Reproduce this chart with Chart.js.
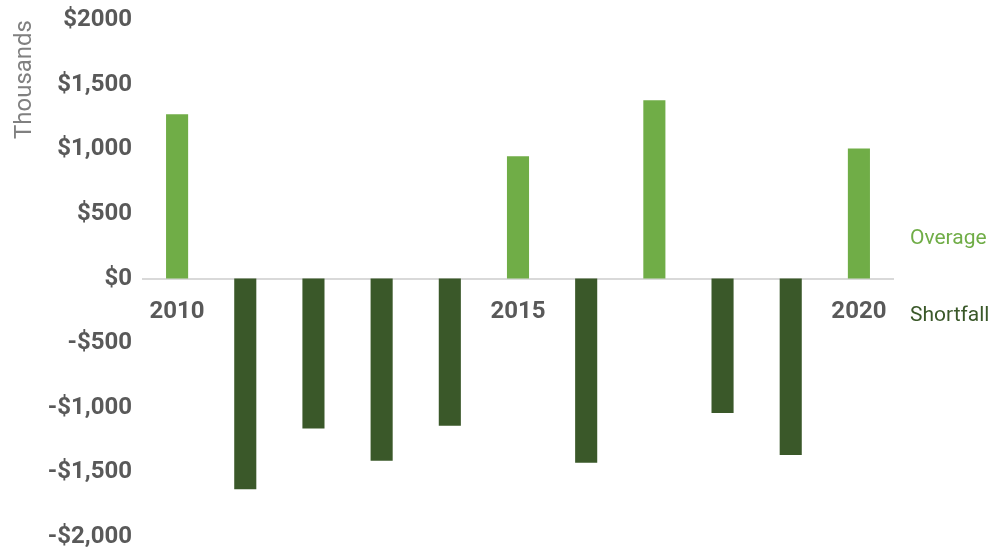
<!DOCTYPE html>
<html>
<head>
<meta charset="utf-8">
<script src="https://cdn.jsdelivr.net/npm/chart.js@4"></script>
<style>
  html, body { margin: 0; padding: 0; background: #ffffff; }
  #wrap { position: relative; width: 992px; height: 552px; }
</style>
</head>
<body>
<div id="wrap"><canvas id="myChart" width="992" height="552"></canvas></div>
<script>
// years and values (thousands of dollars)
var years = ['2010', '2011', '2012', '2013', '2014', '2015', '2016', '2017', '2018', '2019', '2020'];
var overage = [1270, null, null, null, null, 945, null, 1380, null, null, 1005];
var shortfall = [null, -1630, -1160, -1410, -1140, null, -1425, null, -1040, -1365, null];
var yTicks = [2000, 1500, 1000, 500, 0, -500, -1000, -1500, -2000];
var yTickLabels = ['$2000', '$1,500', '$1,000', '$500', '$0', '-$500', '-$1,000', '-$1,500', '-$2,000'];
var shownYears = ['2010', '2015', '2020'];

var colorOver = '#70ad47';
var colorShort = '#3a5829';

// series names drawn on the right side, next to the zero line
var sideLabels = {
    id: 'sideLabels',
    afterDraw: function(chart) {
        var ctx = chart.ctx;
        var y0 = chart.scales.y.getPixelForValue(0);
        ctx.save();
        ctx.font = '21px Roboto';
        ctx.textAlign = 'left';
        ctx.textBaseline = 'middle';
        ctx.fillStyle = colorOver;
        ctx.fillText('Overage', 910, y0 - 40);
        ctx.fillStyle = colorShort;
        ctx.fillText('Shortfall', 910, y0 + 37);
        ctx.restore();
    }
};

const ctx = document.getElementById('myChart').getContext('2d');
const myChart = new Chart(ctx, {
    type: 'bar',
    data: {
        labels: years,
        datasets: [{
            label: 'Overage',
            data: overage,
            backgroundColor: colorOver,
            barPercentage: 0.324,
            categoryPercentage: 1
        }, {
            label: 'Shortfall',
            data: shortfall,
            backgroundColor: colorShort,
            barPercentage: 0.324,
            categoryPercentage: 1
        }]
    },
    options: {
        responsive: false,
        animation: false,
        layout: { padding: { top: 20, bottom: 15, right: 99, left: 0 } },
        plugins: {
            legend: { display: false },
            tooltip: { enabled: false }
        },
        scales: {
            x: {
                stacked: true,
                position: { y: 0 },
                grid: { display: false, drawTicks: false },
                border: { display: true, color: '#d9d9d9', width: 2 },
                ticks: {
                    autoSkip: false,
                    maxRotation: 0,
                    padding: 19,
                    color: '#595959',
                    font: { family: 'Roboto', size: 24, weight: 'bold' },
                    callback: function(val, i) {
                        var l = years[i];
                        return shownYears.indexOf(l) >= 0 ? l : '';
                    }
                }
            },
            y: {
                stacked: true,
                min: -2000,
                max: 2000,
                afterBuildTicks: function(scale) {
                    scale.ticks = yTicks.map(function(v) { return { value: v }; });
                },
                afterFit: function(scale) {
                    scale.width = 143;
                    scale.paddingTop = 0;
                    scale.paddingBottom = 0;
                },
                grid: { display: false, drawTicks: false },
                border: { display: false },
                ticks: {
                    padding: 11,
                    color: '#595959',
                    font: { family: 'Roboto', size: 24, weight: 'bold' },
                    callback: function(val) {
                        var i = yTicks.indexOf(val);
                        return i >= 0 ? yTickLabels[i] : '';
                    }
                },
                title: {
                    display: true,
                    text: 'Thousands',
                    align: 'end',
                    color: '#808080',
                    font: { family: 'Roboto', size: 24 },
                    padding: { top: 11, bottom: 0 }
                }
            }
        }
    },
    plugins: [sideLabels]
});
</script>
</body>
</html>
